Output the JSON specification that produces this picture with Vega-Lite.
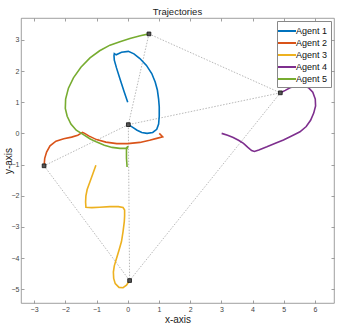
{
  "$schema": "https://vega.github.io/schema/vega-lite/v6.json",
  "width": 313,
  "height": 285,
  "autosize": {"type": "none"},
  "padding": {"left": 21, "top": 18, "right": 10, "bottom": 24},
  "title": {"text": "Trajectories", "fontSize": 9.5, "fontWeight": "normal", "font": "Liberation Sans", "color": "#222", "offset": 1},
  "config": {
    "view": {"stroke": "#888", "strokeWidth": 0.8},
    "axis": {"labelFont": "Liberation Sans", "labelFontSize": 7, "labelColor": "#444", "titleFont": "Liberation Sans", "titleFontSize": 10, "titleFontWeight": "normal", "titleColor": "#222", "grid": false, "domain": false, "tickColor": "#888", "tickWidth": 0.8},
    "legend": {"labelFont": "Liberation Sans"}
  },
  "datasets": {
    "traj": [
      {"agent": "Agent 1", "i": 0, "x": 0.0, "y": 1.0},
      {"agent": "Agent 1", "i": 1, "x": -0.12, "y": 1.35},
      {"agent": "Agent 1", "i": 2, "x": -0.25, "y": 1.75},
      {"agent": "Agent 1", "i": 3, "x": -0.36, "y": 2.1},
      {"agent": "Agent 1", "i": 4, "x": -0.43, "y": 2.35},
      {"agent": "Agent 1", "i": 5, "x": -0.44, "y": 2.5},
      {"agent": "Agent 1", "i": 6, "x": -0.43, "y": 2.56},
      {"agent": "Agent 1", "i": 7, "x": -0.37, "y": 2.52},
      {"agent": "Agent 1", "i": 8, "x": -0.2, "y": 2.6},
      {"agent": "Agent 1", "i": 9, "x": 0.02, "y": 2.63},
      {"agent": "Agent 1", "i": 10, "x": 0.2, "y": 2.55},
      {"agent": "Agent 1", "i": 11, "x": 0.39, "y": 2.4},
      {"agent": "Agent 1", "i": 12, "x": 0.6, "y": 2.18},
      {"agent": "Agent 1", "i": 13, "x": 0.77, "y": 1.92},
      {"agent": "Agent 1", "i": 14, "x": 0.88, "y": 1.65},
      {"agent": "Agent 1", "i": 15, "x": 0.95, "y": 1.39},
      {"agent": "Agent 1", "i": 16, "x": 0.99, "y": 1.1},
      {"agent": "Agent 1", "i": 17, "x": 1.01, "y": 0.85},
      {"agent": "Agent 1", "i": 18, "x": 1.01, "y": 0.55},
      {"agent": "Agent 1", "i": 19, "x": 0.99, "y": 0.3},
      {"agent": "Agent 1", "i": 20, "x": 0.93, "y": 0.13},
      {"agent": "Agent 1", "i": 21, "x": 0.8, "y": 0.03},
      {"agent": "Agent 1", "i": 22, "x": 0.62, "y": 0.0},
      {"agent": "Agent 1", "i": 23, "x": 0.45, "y": 0.03},
      {"agent": "Agent 1", "i": 24, "x": 0.3, "y": 0.1},
      {"agent": "Agent 1", "i": 25, "x": 0.15, "y": 0.2},
      {"agent": "Agent 1", "i": 26, "x": 0.02, "y": 0.28},
      {"agent": "Agent 2", "i": 0, "x": -2.68, "y": -1.04},
      {"agent": "Agent 2", "i": 1, "x": -2.66, "y": -0.8},
      {"agent": "Agent 2", "i": 2, "x": -2.6, "y": -0.6},
      {"agent": "Agent 2", "i": 3, "x": -2.49, "y": -0.4},
      {"agent": "Agent 2", "i": 4, "x": -2.3, "y": -0.25},
      {"agent": "Agent 2", "i": 5, "x": -2.05, "y": -0.17},
      {"agent": "Agent 2", "i": 6, "x": -1.8, "y": -0.12},
      {"agent": "Agent 2", "i": 7, "x": -1.6, "y": -0.06},
      {"agent": "Agent 2", "i": 8, "x": -1.5, "y": 0.0},
      {"agent": "Agent 2", "i": 9, "x": -1.45, "y": 0.03},
      {"agent": "Agent 2", "i": 10, "x": -1.38, "y": 0.0},
      {"agent": "Agent 2", "i": 11, "x": -1.25, "y": -0.08},
      {"agent": "Agent 2", "i": 12, "x": -1.0, "y": -0.2},
      {"agent": "Agent 2", "i": 13, "x": -0.7, "y": -0.28},
      {"agent": "Agent 2", "i": 14, "x": -0.35, "y": -0.33},
      {"agent": "Agent 2", "i": 15, "x": 0.0, "y": -0.33},
      {"agent": "Agent 2", "i": 16, "x": 0.39, "y": -0.29},
      {"agent": "Agent 2", "i": 17, "x": 0.7, "y": -0.22},
      {"agent": "Agent 2", "i": 18, "x": 0.93, "y": -0.16},
      {"agent": "Agent 2", "i": 19, "x": 1.12, "y": -0.11},
      {"agent": "Agent 2", "i": 20, "x": 1.01, "y": 0.0},
      {"agent": "Agent 3", "i": 0, "x": -1.02, "y": -1.02},
      {"agent": "Agent 3", "i": 1, "x": -1.12, "y": -1.3},
      {"agent": "Agent 3", "i": 2, "x": -1.21, "y": -1.55},
      {"agent": "Agent 3", "i": 3, "x": -1.3, "y": -1.8},
      {"agent": "Agent 3", "i": 4, "x": -1.34, "y": -2.0},
      {"agent": "Agent 3", "i": 5, "x": -1.35, "y": -2.2},
      {"agent": "Agent 3", "i": 6, "x": -1.34, "y": -2.37},
      {"agent": "Agent 3", "i": 7, "x": -1.15, "y": -2.38},
      {"agent": "Agent 3", "i": 8, "x": -0.9, "y": -2.37},
      {"agent": "Agent 3", "i": 9, "x": -0.57, "y": -2.35},
      {"agent": "Agent 3", "i": 10, "x": -0.3, "y": -2.35},
      {"agent": "Agent 3", "i": 11, "x": -0.15, "y": -2.38},
      {"agent": "Agent 3", "i": 12, "x": -0.1, "y": -2.46},
      {"agent": "Agent 3", "i": 13, "x": -0.1, "y": -2.65},
      {"agent": "Agent 3", "i": 14, "x": -0.11, "y": -2.83},
      {"agent": "Agent 3", "i": 15, "x": -0.15, "y": -3.15},
      {"agent": "Agent 3", "i": 16, "x": -0.2, "y": -3.47},
      {"agent": "Agent 3", "i": 17, "x": -0.28, "y": -3.75},
      {"agent": "Agent 3", "i": 18, "x": -0.36, "y": -4.01},
      {"agent": "Agent 3", "i": 19, "x": -0.43, "y": -4.25},
      {"agent": "Agent 3", "i": 20, "x": -0.46, "y": -4.45},
      {"agent": "Agent 3", "i": 21, "x": -0.45, "y": -4.65},
      {"agent": "Agent 3", "i": 22, "x": -0.4, "y": -4.82},
      {"agent": "Agent 3", "i": 23, "x": -0.28, "y": -4.94},
      {"agent": "Agent 3", "i": 24, "x": -0.15, "y": -4.95},
      {"agent": "Agent 3", "i": 25, "x": -0.04, "y": -4.87},
      {"agent": "Agent 3", "i": 26, "x": 0.06, "y": -4.72},
      {"agent": "Agent 4", "i": 0, "x": 3.01, "y": 0.0},
      {"agent": "Agent 4", "i": 1, "x": 3.2, "y": -0.06},
      {"agent": "Agent 4", "i": 2, "x": 3.38, "y": -0.13},
      {"agent": "Agent 4", "i": 3, "x": 3.55, "y": -0.22},
      {"agent": "Agent 4", "i": 4, "x": 3.71, "y": -0.32},
      {"agent": "Agent 4", "i": 5, "x": 3.85, "y": -0.45},
      {"agent": "Agent 4", "i": 6, "x": 3.97, "y": -0.55},
      {"agent": "Agent 4", "i": 7, "x": 4.06, "y": -0.58},
      {"agent": "Agent 4", "i": 8, "x": 4.2, "y": -0.53},
      {"agent": "Agent 4", "i": 9, "x": 4.46, "y": -0.43},
      {"agent": "Agent 4", "i": 10, "x": 4.75, "y": -0.31},
      {"agent": "Agent 4", "i": 11, "x": 4.99, "y": -0.21},
      {"agent": "Agent 4", "i": 12, "x": 5.3, "y": -0.06},
      {"agent": "Agent 4", "i": 13, "x": 5.52, "y": 0.05},
      {"agent": "Agent 4", "i": 14, "x": 5.72, "y": 0.22},
      {"agent": "Agent 4", "i": 15, "x": 5.86, "y": 0.42},
      {"agent": "Agent 4", "i": 16, "x": 5.96, "y": 0.65},
      {"agent": "Agent 4", "i": 17, "x": 6.02, "y": 0.88},
      {"agent": "Agent 4", "i": 18, "x": 6.01, "y": 1.1},
      {"agent": "Agent 4", "i": 19, "x": 5.93, "y": 1.32},
      {"agent": "Agent 4", "i": 20, "x": 5.8, "y": 1.46},
      {"agent": "Agent 4", "i": 21, "x": 5.6, "y": 1.53},
      {"agent": "Agent 4", "i": 22, "x": 5.4, "y": 1.53},
      {"agent": "Agent 4", "i": 23, "x": 5.2, "y": 1.46},
      {"agent": "Agent 4", "i": 24, "x": 5.05, "y": 1.38},
      {"agent": "Agent 4", "i": 25, "x": 4.89, "y": 1.3},
      {"agent": "Agent 5", "i": 0, "x": 0.68, "y": 3.19},
      {"agent": "Agent 5", "i": 1, "x": 0.4, "y": 3.13},
      {"agent": "Agent 5", "i": 2, "x": 0.07, "y": 3.04},
      {"agent": "Agent 5", "i": 3, "x": -0.25, "y": 2.94},
      {"agent": "Agent 5", "i": 4, "x": -0.57, "y": 2.83},
      {"agent": "Agent 5", "i": 5, "x": -0.9, "y": 2.65},
      {"agent": "Agent 5", "i": 6, "x": -1.21, "y": 2.42},
      {"agent": "Agent 5", "i": 7, "x": -1.5, "y": 2.12},
      {"agent": "Agent 5", "i": 8, "x": -1.74, "y": 1.78},
      {"agent": "Agent 5", "i": 9, "x": -1.9, "y": 1.45},
      {"agent": "Agent 5", "i": 10, "x": -1.99, "y": 1.1},
      {"agent": "Agent 5", "i": 11, "x": -2.0, "y": 0.8},
      {"agent": "Agent 5", "i": 12, "x": -1.94, "y": 0.55},
      {"agent": "Agent 5", "i": 13, "x": -1.82, "y": 0.3},
      {"agent": "Agent 5", "i": 14, "x": -1.65, "y": 0.1},
      {"agent": "Agent 5", "i": 15, "x": -1.42, "y": -0.04},
      {"agent": "Agent 5", "i": 16, "x": -1.2, "y": -0.18},
      {"agent": "Agent 5", "i": 17, "x": -0.99, "y": -0.28},
      {"agent": "Agent 5", "i": 18, "x": -0.75, "y": -0.38},
      {"agent": "Agent 5", "i": 19, "x": -0.5, "y": -0.45},
      {"agent": "Agent 5", "i": 20, "x": -0.25, "y": -0.48},
      {"agent": "Agent 5", "i": 21, "x": -0.06, "y": -0.48},
      {"agent": "Agent 5", "i": 22, "x": 0.01, "y": -0.42},
      {"agent": "Agent 5", "i": 23, "x": -0.04, "y": -0.52},
      {"agent": "Agent 5", "i": 24, "x": -0.04, "y": -0.8},
      {"agent": "Agent 5", "i": 25, "x": -0.02, "y": -1.08}
    ],
    "markers": [
      {"x": 0.68, "y": 3.19},
      {"x": 4.89, "y": 1.3},
      {"x": 0.02, "y": 0.28},
      {"x": -2.68, "y": -1.04},
      {"x": 0.06, "y": -4.72}
    ],
    "edges": [
      {"x": 0.68, "y": 3.19, "x2": 4.89, "y2": 1.3},
      {"x": 0.68, "y": 3.19, "x2": 0.02, "y2": 0.28},
      {"x": 4.89, "y": 1.3, "x2": 0.02, "y2": 0.28},
      {"x": 0.02, "y": 0.28, "x2": -2.68, "y2": -1.04},
      {"x": -2.68, "y": -1.04, "x2": 0.06, "y2": -4.72},
      {"x": 4.89, "y": 1.3, "x2": 0.06, "y2": -4.72},
      {"x": 0.02, "y": 0.28, "x2": 0.06, "y2": -4.72}
    ]
  },
  "resolve": {"axis": {"x": "independent", "y": "independent"}},
  "layer": [
    {
      "data": {"name": "edges"},
      "mark": {"type": "rule", "color": "#9a9a9a", "strokeWidth": 0.7, "strokeDash": [1.5, 1.5]},
      "encoding": {
        "x": {"field": "x", "type": "quantitative", "axis": null},
        "y": {"field": "y", "type": "quantitative", "axis": null},
        "x2": {"field": "x2"},
        "y2": {"field": "y2"}
      }
    },
    {
      "data": {"name": "traj"},
      "mark": {"type": "line", "strokeWidth": 1.6},
      "encoding": {
        "x": {"field": "x", "type": "quantitative", "scale": {"domain": [-3.42, 6.61], "nice": false, "zero": false},
              "axis": {"orient": "bottom", "title": "x-axis", "values": [-3, -2, -1, 0, 1, 2, 3, 4, 5, 6], "tickSize": -3, "labelPadding": 5, "titlePadding": 2}},
        "y": {"field": "y", "type": "quantitative", "scale": {"domain": [-5.44, 3.7], "nice": false, "zero": false},
              "axis": {"orient": "left", "title": "y-axis", "values": [-5, -4, -3, -2, -1, 0, 1, 2, 3], "tickSize": -3, "labelPadding": 5, "titleX": -8, "titleY": 142.5}},
        "color": {"field": "agent", "type": "nominal",
                  "scale": {"domain": ["Agent 1", "Agent 2", "Agent 3", "Agent 4", "Agent 5"], "range": ["#0072BD", "#D95319", "#EDB120", "#7E2F8E", "#77AC30"]},
                  "legend": {"title": null, "orient": "top-right", "offset": 3, "padding": 3, "strokeColor": "#888", "fillColor": "white",
                             "labelFontSize": 9, "labelColor": "#111", "labelOffset": 2, "symbolType": "M-1.5,0H1.5", "symbolSize": 144, "symbolStrokeWidth": 2, "rowPadding": 0}},
        "order": {"field": "i", "type": "quantitative"}
      }
    },
    {
      "data": {"name": "markers"},
      "mark": {"type": "square", "size": 14, "fill": "#555", "stroke": "#111", "strokeWidth": 0.8, "opacity": 1},
      "encoding": {
        "x": {"field": "x", "type": "quantitative",
              "axis": {"orient": "top", "title": null, "labels": false, "values": [-3, -2, -1, 0, 1, 2, 3, 4, 5, 6], "tickSize": -3}},
        "y": {"field": "y", "type": "quantitative",
              "axis": {"orient": "right", "title": null, "labels": false, "values": [-5, -4, -3, -2, -1, 0, 1, 2, 3], "tickSize": -3}}
      }
    }
  ]
}
